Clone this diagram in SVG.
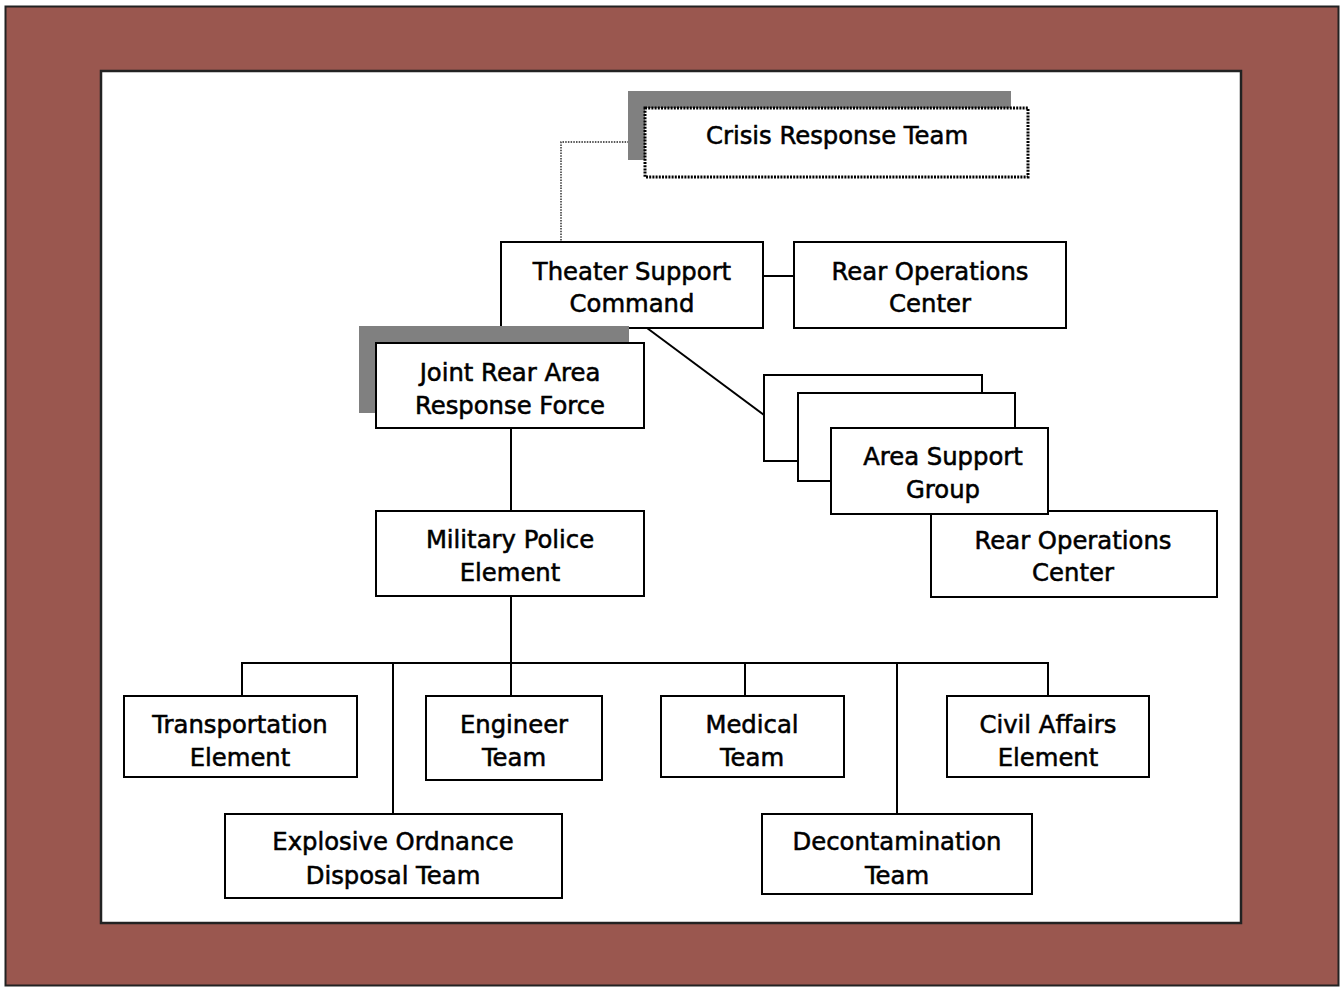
<svg xmlns="http://www.w3.org/2000/svg" width="1341" height="987" viewBox="0 0 1341 987">
<style>
.box{fill:#fff;stroke:#000;stroke-width:2}
.shadow{fill:#808080;stroke:none}
.dotted{fill:#fff;stroke:#000;stroke-width:3;stroke-dasharray:2 1.2}
.ln{stroke:#000;stroke-width:2;fill:none}
.dl{stroke:#222;stroke-width:1.4;fill:none;stroke-dasharray:1.5 1.2}
text{font-family:"DejaVu Sans","Verdana",sans-serif;font-size:24.3px;fill:#000;stroke:#000;stroke-width:0.55;text-anchor:middle}
</style>
<rect x="5.5" y="6.5" width="1333" height="979" fill="#9a574f" stroke="#222" stroke-width="2"/>
<rect x="101" y="71" width="1140" height="852" fill="#fff" stroke="#222" stroke-width="2.5"/>
<g id="connectors">
<path class="dl" d="M645 142 H561 V242"/>
<path class="ln" d="M763 276 H794"/>
<path class="ln" d="M647 328 L764 415"/>
<path class="ln" d="M511 428 V511"/>
<path class="ln" d="M511 596 V663"/>
<path class="ln" d="M242 696 V663 H1048 V696"/>
<path class="ln" d="M393 663 V814"/>
<path class="ln" d="M511 663 V696"/>
<path class="ln" d="M745 663 V696"/>
<path class="ln" d="M897 663 V814"/>
</g>
<g id="crisis-response-team">
<rect class="shadow" x="628" y="91" width="383" height="69"/>
<rect class="dotted" x="645" y="108" width="383" height="69"/>
<text x="837" y="144">Crisis Response Team</text>
</g>
<g id="theater-support-command">
<rect class="box" x="501" y="242" width="262" height="86"/>
<text x="632" y="280">Theater Support</text>
<text x="632" y="312">Command</text>
</g>
<g id="rear-operations-center-1">
<rect class="box" x="794" y="242" width="272" height="86"/>
<text x="930" y="280">Rear Operations</text>
<text x="930" y="312">Center</text>
</g>
<g id="joint-rear-area-response-force">
<rect class="shadow" x="359" y="326" width="270" height="87"/>
<rect class="box" x="376" y="343" width="268" height="85"/>
<text x="510" y="381">Joint Rear Area</text>
<text x="510" y="414">Response Force</text>
</g>
<g id="rear-operations-center-2">
<rect class="box" x="931" y="511" width="286" height="86"/>
<text x="1073" y="549">Rear Operations</text>
<text x="1073" y="581">Center</text>
</g>
<g id="area-support-group">
<rect class="box" x="764" y="375" width="218" height="86"/>
<rect class="box" x="798" y="393" width="217" height="88"/>
<rect class="box" x="831" y="428" width="217" height="86"/>
<text x="943" y="465">Area Support</text>
<text x="943" y="498">Group</text>
</g>
<g id="military-police-element">
<rect class="box" x="376" y="511" width="268" height="85"/>
<text x="510" y="548">Military Police</text>
<text x="510" y="581">Element</text>
</g>
<g id="transportation-element">
<rect class="box" x="124" y="696" width="233" height="81"/>
<text x="240" y="733">Transportation</text>
<text x="240" y="766">Element</text>
</g>
<g id="engineer-team">
<rect class="box" x="426" y="696" width="176" height="84"/>
<text x="514" y="733">Engineer</text>
<text x="514" y="766">Team</text>
</g>
<g id="medical-team">
<rect class="box" x="661" y="696" width="183" height="81"/>
<text x="752" y="733">Medical</text>
<text x="752" y="766">Team</text>
</g>
<g id="civil-affairs-element">
<rect class="box" x="947" y="696" width="202" height="81"/>
<text x="1048" y="733">Civil Affairs</text>
<text x="1048" y="766">Element</text>
</g>
<g id="explosive-ordnance-disposal-team">
<rect class="box" x="225" y="814" width="337" height="84"/>
<text x="393" y="850">Explosive Ordnance</text>
<text x="393" y="884">Disposal Team</text>
</g>
<g id="decontamination-team">
<rect class="box" x="762" y="814" width="270" height="80"/>
<text x="897" y="850">Decontamination</text>
<text x="897" y="884">Team</text>
</g>
</svg>
